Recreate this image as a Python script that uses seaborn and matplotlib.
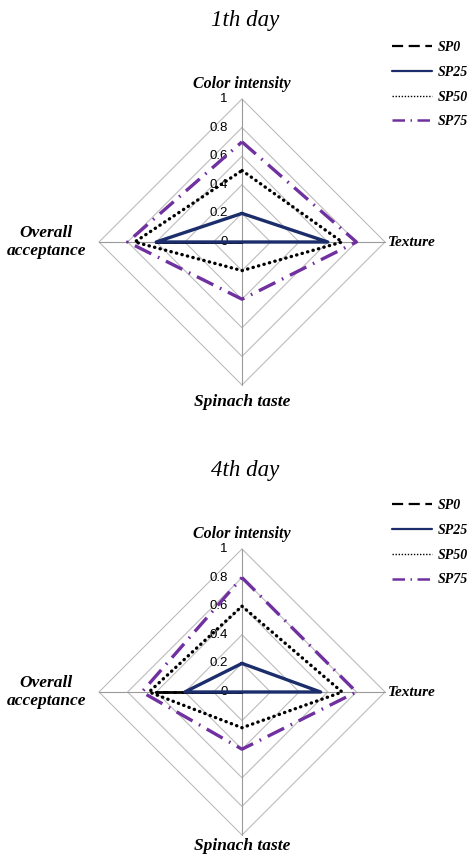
import numpy as np
import pandas as pd
import matplotlib
matplotlib.use("Agg")
import matplotlib.pyplot as plt
from matplotlib.lines import Line2D
import seaborn as sns

# attributes, clockwise from the top
categories = ["Color intensity", "Texture", "Spinach taste", "Overall\nacceptance"]
series = ["SP0", "SP25", "SP50", "SP75"]
tick_labels = ["0", "0.2", "0.4", "0.6", "0.8", "1"]
tick_values = [0, 0.2, 0.4, 0.6, 0.8, 1.0]

# 1th day
day1_sp0 = [0, 0, 0, 0.6]
day1_sp25 = [0.2, 0.6, 0, 0.6]
day1_sp50 = [0.5, 0.7, 0.2, 0.75]
day1_sp75 = [0.7, 0.8, 0.4, 0.8]

# 4th day
day4_sp0 = [0, 0, 0, 0.6]
day4_sp25 = [0.2, 0.55, 0, 0.4]
day4_sp50 = [0.6, 0.7, 0.25, 0.65]
day4_sp75 = [0.8, 0.8, 0.4, 0.7]

styles = {
    "SP0": dict(color="black", lw=2.0, linestyle=(0, (4.5, 2.2))),
    "SP25": dict(color="#1c2d6b", lw=2.4, linestyle="-"),
    "SP50": dict(color="black", lw=2.4, linestyle=(0, (0.1, 1.6)), dash_capstyle="round"),
    "SP75": dict(color="#7030A0", lw=2.4, linestyle=(0, (5.5, 2.2, 0.5, 2.2))),
}
legend_styles = {
    "SP0": dict(color="black", lw=1.6, linestyle=(0, (5, 2.5))),
    "SP25": dict(color="#1c2d6b", lw=1.6, linestyle="-"),
    "SP50": dict(color="black", lw=1.0, linestyle=(0, (1, 1.2))),
    "SP75": dict(color="#7030A0", lw=1.8, linestyle=(0, (5, 2.2, 0.6, 2.2))),
}

angles = np.deg2rad([90, 0, -90, 180])
serif = "Liberation Serif"

sns.set_style("white")
plt.rcParams["text.color"] = "black"

W, H = 477, 858
SCALE = 143.0  # pixels per unit radius


def to_xy(values):
    v = np.asarray(values + values[:1], dtype=float)
    a = np.concatenate([angles, angles[:1]])
    return v * np.cos(a), v * np.sin(a)


def draw_day(ax, title, data, cx, cy, top_px, legend_top, bottom_lab_y):
    # axes spans full width; set limits so that one unit = SCALE pixels
    ax_h = ax.get_position().height * H
    ax.set_xlim(-cx / SCALE, (W - cx) / SCALE)
    ax.set_ylim(-(ax_h - (cy - top_px)) / SCALE, (cy - top_px) / SCALE)
    ax.set_aspect("equal", adjustable="datalim")
    ax.set_axis_off()

    # diamond grid
    for r in tick_values[1:]:
        gx, gy = to_xy([r] * 4)
        ax.plot(gx, gy, color="#bdbdbd", lw=0.8, zorder=1)
    for a in angles:
        ax.plot([0, np.cos(a)], [0, np.sin(a)], color="#9a9a9a", lw=0.8, zorder=1)

    for lab, t in zip(tick_labels, tick_values):
        ax.text(-0.1, t, lab, ha="right", va="center", fontsize=9.5,
                family="Liberation Sans", color="black", zorder=2)

    rows = []
    for name in series:
        xs, ys = to_xy(data[name])
        for i, (x, y) in enumerate(zip(xs, ys)):
            rows.append({"series": name, "order": i, "x": x, "y": y})
    df = pd.DataFrame(rows)

    for name in series:
        sub = df[df["series"] == name]
        sns.lineplot(data=sub, x="x", y="y", sort=False, estimator=None,
                     ax=ax, zorder=3, **styles[name])

    ax.set_xlabel("")
    ax.set_ylabel("")

    lab_kw = dict(family=serif, fontweight="bold", style="italic", color="black")
    ax.text(0, 1.105, categories[0], ha="center", va="center", fontsize=11.5, **lab_kw)
    ax.text(1.02, 0, categories[1], ha="left", va="center", fontsize=11, **lab_kw)
    ax.text(0, bottom_lab_y, categories[2], ha="center", va="center", fontsize=12.5, **lab_kw)
    ax.text(-1.37, 0, categories[3], ha="center", va="center", fontsize=12.5,
            multialignment="center", linespacing=1.1, **lab_kw)

    ax.text(0.02, 1.55, title, ha="center", va="center", family=serif,
            fontsize=16.5, style="italic", color="black")

    handles = [Line2D([], [], **legend_styles[n]) for n in series]
    leg = ax.legend(handles, series, loc="upper left", frameon=False,
                    bbox_to_anchor=(385 / W, legend_top), borderpad=0,
                    handlelength=2.9, handletextpad=0.4, labelspacing=0.85,
                    prop=dict(family=serif, size=10, weight="bold", style="italic"))
    for t in leg.get_texts():
        t.set_color("black")


fig = plt.figure(figsize=(W / 100, H / 100), dpi=100)
ax1 = fig.add_axes([0, 429 / H, 1, 429 / H])
ax2 = fig.add_axes([0, 0, 1, 429 / H])

day1 = {"SP0": day1_sp0, "SP25": day1_sp25, "SP50": day1_sp50, "SP75": day1_sp75}
day4 = {"SP0": day4_sp0, "SP25": day4_sp25, "SP50": day4_sp50, "SP75": day4_sp75}

draw_day(ax1, "1th day", day1, 242, 242, 0, 1 - 34 / 429, -1.12)
draw_day(ax2, "4th day", day4, 242, 692, 429, 1 - 63 / 429, -1.075)

fig.savefig("out.png", dpi=100)
